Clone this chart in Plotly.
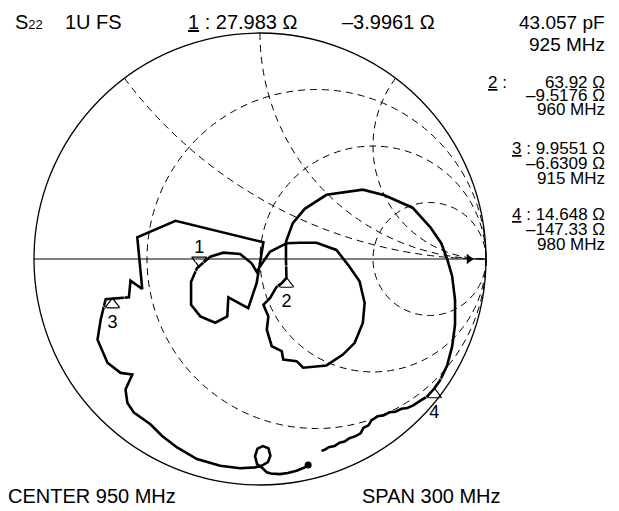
import numpy as np
import plotly.graph_objects as go

s22_re = [0.213, 0.198, 0.162, 0.123, 0.088, 0.048, 0.030, 0.013, -0.013, -0.022,
          -0.011, 0.013, 0.037, 0.046, 0.035, 0.009, -0.022, -0.088, -0.176, -0.279,
          -0.367, -0.433, -0.485, -0.558, -0.587, -0.595, -0.565, -0.617, -0.675, -0.719,
          -0.705, -0.683, -0.580, -0.573, -0.521, -0.543, -0.374, 0.015, -0.015, -0.052,
          -0.140, -0.145, -0.198, -0.264, -0.305, -0.305, -0.279, -0.220, -0.162, -0.088,
          -0.037, -0.015, 0.044, 0.118, 0.176, 0.250, 0.338, 0.396, 0.441, 0.463,
          0.455, 0.419, 0.367, 0.294, 0.191, 0.162, 0.103, 0.096, 0.052, 0.030,
          0.037, 0.015, 0.044, 0.074, 0.097, 0.117, 0.115, 0.115, 0.145, 0.198,
          0.294, 0.455, 0.551, 0.675, 0.753, 0.802, 0.828, 0.850, 0.863, 0.863,
          0.850, 0.828, 0.797, 0.771, 0.740, 0.705, 0.678, 0.652, 0.626, 0.599,
          0.573, 0.546, 0.520, 0.493, 0.480, 0.458, 0.445, 0.423, 0.396, 0.374,
          0.352, 0.330, 0.304, 0.286, 0.272]
s22_im = [-0.912, -0.922, -0.937, -0.947, -0.952, -0.949, -0.944, -0.927, -0.907, -0.872,
          -0.839, -0.828, -0.837, -0.870, -0.899, -0.914, -0.922, -0.926, -0.915, -0.885,
          -0.834, -0.783, -0.731, -0.680, -0.636, -0.577, -0.511, -0.504, -0.459, -0.357,
          -0.269, -0.178, -0.169, -0.096, -0.133, 0.096, 0.169, 0.074, -0.107, -0.217,
          -0.170, -0.254, -0.282, -0.254, -0.203, -0.101, -0.041, 0.010, 0.028, 0.022,
          -0.019, -0.056, 0.032, 0.070, 0.072, 0.072, 0.040, -0.034, -0.100, -0.195,
          -0.283, -0.371, -0.423, -0.471, -0.481, -0.452, -0.445, -0.408, -0.386, -0.313,
          -0.254, -0.203, -0.173, -0.122, -0.106, -0.084, -0.004, 0.076, 0.159, 0.222,
          0.284, 0.307, 0.282, 0.227, 0.141, 0.070, 0.000, -0.075, -0.181, -0.291,
          -0.388, -0.471, -0.537, -0.573, -0.608, -0.630, -0.648, -0.659, -0.663, -0.676,
          -0.678, -0.692, -0.696, -0.714, -0.736, -0.747, -0.771, -0.784, -0.793, -0.808,
          -0.813, -0.828, -0.833, -0.844, -0.849]

# markers 1..4
mk_labels = ['1', '2', '3', '4']
mk_re = [-0.269, 0.117, -0.653, 0.771]
mk_im = [-0.033, -0.084, -0.175, -0.573]

# reference position arrow
ref_re = [0.925]
ref_im = [0.0]

r_grid = [1 / 3, 1, 3]
x_grid = [0.5, 1, 2]


def to_z(re, im):
    g = np.array(re) + 1j * np.array(im)
    z = (1 + g) / (1 - g)
    return z.real, z.imag


tr_r, tr_x = to_z(s22_re, s22_im)
mk_r, mk_x = to_z(mk_re, mk_im)
ref_r, ref_x = to_z(ref_re, ref_im)

W, H = 619, 511
font = 'Liberation Sans, Arial, sans-serif'

fig = go.Figure()
fig.add_trace(go.Scattersmith(real=tr_r, imag=tr_x, mode='lines',
                              line=dict(color='black', width=2.6)))
fig.add_trace(go.Scattersmith(real=tr_r[:1], imag=tr_x[:1], mode='markers',
                              marker=dict(color='black', size=7)))
fig.add_trace(go.Scattersmith(real=mk_r, imag=mk_x, mode='markers',
                              marker=dict(symbol='triangle-up-open', size=13, color='black',
                                          line=dict(width=1.2, color='black'),
                                          angle=[180, 0, 0, 0], standoff=6)))
fig.add_trace(go.Scattersmith(real=mk_r, imag=mk_x, mode='markers+text', text=mk_labels,
                              textposition=['top center', 'bottom center', 'bottom center', 'bottom center'],
                              textfont=dict(family=font, size=18, color='black'),
                              marker=dict(size=[12, 24, 24, 24], color='rgba(0,0,0,0)')))
fig.add_trace(go.Scattersmith(real=ref_r, imag=ref_x, mode='markers',
                              marker=dict(symbol='triangle-right', size=9, color='black')))

axis_common = dict(showticklabels=False, ticks='', gridcolor='black', griddash='7px,5px',
                   gridwidth=1, showline=True, linecolor='black')
cx, cy, half = 260, 259, 226
fig.update_layout(
    width=W, height=H,
    margin=dict(l=0, r=0, t=0, b=0),
    paper_bgcolor='white',
    showlegend=False,
    smith=dict(
        domain=dict(x=[(cx - half) / W, (cx + half) / W],
                    y=[1 - (cy + half) / H, 1 - (cy - half) / H]),
        bgcolor='white',
        realaxis=dict(tickvals=r_grid, linewidth=1, **axis_common),
        imaginaryaxis=dict(tickvals=x_grid, linewidth=1.3, **axis_common),
    ),
)


def note(txt, x, y, anchor='left', size=17):
    fig.add_annotation(text=txt, x=x / W, y=1 - y / H, xref='paper', yref='paper',
                       xanchor=anchor, yanchor='middle', showarrow=False, borderpad=0,
                       font=dict(family=font, size=size, color='black'))


note("S<span style='font-size:13px'>22</span>", 14, 22, size=20)
note('1U FS', 64, 22, size=20)
note('<u>1</u> : 27.983 Ω', 187, 22, size=20)
note('–3.9961 Ω', 341, 22, size=20)
note('43.057 pF', 606, 22.5, 'right', 19)
note('925 MHz', 606, 44, 'right', 19)
note('<u>2</u> :', 487, 82)
note('63.92 Ω', 606, 82, 'right')
note('–9.5176 Ω', 606, 95.5, 'right')
note('960 MHz', 606, 109.5, 'right')
note('<u>3</u> : 9.9551 Ω', 606, 148, 'right')
note('–6.6309 Ω', 606, 163, 'right')
note('915 MHz', 606, 178, 'right')
note('<u>4</u> : 14.648 Ω', 606, 214.5, 'right')
note('–147.33 Ω', 606, 229.5, 'right')
note('980 MHz', 606, 244, 'right')
note('CENTER 950 MHz', 7, 496, size=20)
note('SPAN 300 MHz', 361, 496, size=20)

# drop the default 8px page margin so the figure sits at the window's corner
fig.write_html('out.html', config={'displayModeBar': False},
               post_script="document.body.style.margin='0';")
